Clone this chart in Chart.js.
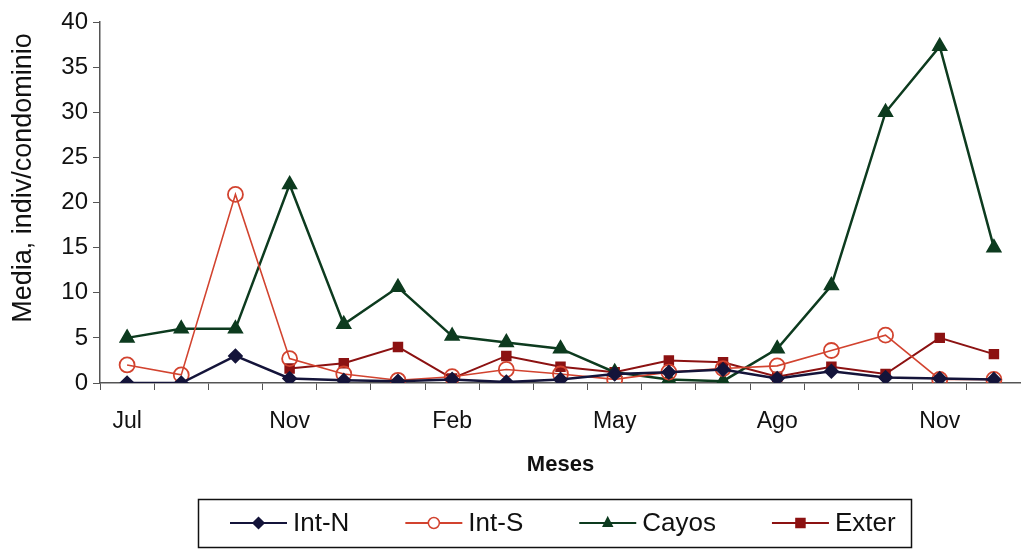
<!DOCTYPE html>
<html>
<head>
<meta charset="utf-8">
<script src="https://cdn.jsdelivr.net/npm/chart.js@4/dist/chart.umd.min.js"></script>
<style>
  html, body { margin: 0; padding: 0; background: #fff; }
  #wrap { width: 1021px; height: 550px; position: relative; }
</style>
</head>
<body>
<div id="wrap"><canvas id="c" width="1021" height="550"></canvas></div>
<script>
// ---- data ----
const months = ['Jul','Sep','Oct','Nov','Dic','Ene','Feb','Mar','Abr','May','Jun','Jul','Ago','Sep','Oct','Nov','Dic'];
const shownTickIdx = [0, 3, 6, 9, 12, 15];
const yTicks = [0, 5, 10, 15, 20, 25, 30, 35, 40];
const intN  = [0, 0, 3.0, 0.5, 0.3, 0.2, 0.4, 0.1, 0.4, 1.0, 1.2, 1.5, 0.5, 1.3, 0.6, 0.5, 0.4];
const intS  = [2.0, 0.9, 20.9, 2.7, 1.0, 0.3, 0.7, 1.5, 1.0, 0.4, 1.2, 1.6, 1.9, 3.6, 5.3, 0.4, 0.4];
const cayos = [5.0, 6.0, 6.0, 22.0, 6.5, 10.6, 5.2, 4.5, 3.8, 1.2, 0.4, 0.2, 3.8, 10.8, 30.0, 37.3, 15.0];
const exter = [null, null, null, 1.6, 2.2, 4.0, 0.5, 3.0, 1.8, 1.2, 2.5, 2.3, 0.7, 1.8, 1.0, 5.0, 3.2];
const seriesNames = ['Int-N', 'Int-S', 'Cayos', 'Exter'];
const yTitle = 'Media, indiv/condominio';
const xTitle = 'Meses';

const FONT = "'Liberation Sans', Arial, sans-serif";

function drawMarker(ctx, style, cx, cy, r) {
  if (style === 'circle') { ctx.arc(cx, cy, r + 1, 0, Math.PI * 2); }
  else if (style === 'rectRot') { ctx.moveTo(cx, cy - r - 1); ctx.lineTo(cx + r + 1, cy); ctx.lineTo(cx, cy + r + 1); ctx.lineTo(cx - r - 1, cy); ctx.closePath(); }
  else if (style === 'triangle') { ctx.moveTo(cx, cy - r - 1); ctx.lineTo(cx + r, cy + r * 0.7); ctx.lineTo(cx - r, cy + r * 0.7); ctx.closePath(); }
  else { ctx.rect(cx - r, cy - r, 2 * r, 2 * r); }
}

const decorations = {
  id: 'decorations',
  afterDraw(chart) {
    const ctx = chart.ctx;
    ctx.save();
    // y-axis title
    ctx.fillStyle = '#111';
    ctx.font = '27px ' + FONT;
    ctx.textAlign = 'center';
    ctx.textBaseline = 'middle';
    ctx.translate(24, 178);
    ctx.rotate(-Math.PI / 2);
    ctx.fillText(yTitle, 0, 0);
    ctx.restore();

    // legend
    ctx.save();
    ctx.strokeStyle = '#111';
    ctx.lineWidth = 1.5;
    ctx.strokeRect(198.5, 499.5, 713, 48);
    ctx.font = '26px ' + FONT;
    ctx.textBaseline = 'middle';
    ctx.textAlign = 'left';
    let x = 230;
    const y = 523;
    chart.data.datasets.forEach(ds => {
      ctx.strokeStyle = ds.borderColor;
      ctx.lineWidth = 2;
      ctx.beginPath(); ctx.moveTo(x, y); ctx.lineTo(x + 57, y); ctx.stroke();
      ctx.fillStyle = ds.pointStyle === 'circle' ? '#fff' : ds.pointBackgroundColor;
      ctx.strokeStyle = ds.pointBorderColor;
      ctx.lineWidth = 1.5;
      ctx.beginPath();
      drawMarker(ctx, ds.pointStyle, x + 28.5, y, 4.5);
      ctx.fill();
      ctx.stroke();
      ctx.fillStyle = '#111';
      ctx.fillText(ds.label, x + 63, y + 1);
      x += 63 + ctx.measureText(ds.label).width + 56;
    });
    ctx.restore();
  }
};

const colors = {
  intN: '#14143a', intS: '#d2432f', cayos: '#0d3b1f', exter: '#8c1212'
};

new Chart(document.getElementById('c'), {
  type: 'line',
  data: {
    labels: months,
    datasets: [
      { label: seriesNames[0], data: intN, borderColor: colors.intN, borderWidth: 2.5,
        pointStyle: 'rectRot', pointRadius: 6, pointBackgroundColor: colors.intN, pointBorderColor: colors.intN },
      { label: seriesNames[1], data: intS, borderColor: colors.intS, borderWidth: 1.6,
        pointStyle: 'circle', pointRadius: 7.5, pointBorderWidth: 1.8, pointBackgroundColor: 'rgba(255,255,255,0)', pointBorderColor: colors.intS },
      { label: seriesNames[2], data: cayos, borderColor: colors.cayos, borderWidth: 2.5,
        pointStyle: 'triangle', pointRadius: 7, pointBackgroundColor: colors.cayos, pointBorderColor: colors.cayos },
      { label: seriesNames[3], data: exter, borderColor: colors.exter, borderWidth: 2,
        pointStyle: 'rect', pointRadius: 6, pointBackgroundColor: colors.exter, pointBorderColor: colors.exter }
    ]
  },
  options: {
    responsive: false,
    animation: false,
    layout: { autoPadding: false, padding: { top: 22, right: 0, left: 0, bottom: 72 } },
    plugins: { legend: { display: false }, tooltip: { enabled: false } },
    elements: { line: { tension: 0 } },
    scales: {
      x: {
        type: 'category',
        offset: true,
        grid: { display: true, offset: true, drawOnChartArea: false, drawTicks: true, tickLength: 7, color: '#555', lineWidth: 1 },
        border: { display: true, color: '#555', width: 1.5 },
        ticks: {
          autoSkip: false, maxRotation: 0, padding: 18,
          color: '#111', font: { family: FONT, size: 23 },
          callback: (v, i) => shownTickIdx.includes(i) ? months[i] : ''
        },
        title: { display: true, text: xTitle, color: '#111', padding: { top: 0, bottom: 0 },
                 font: { family: FONT, size: 22, weight: 'bold' } },
        afterFit: s => { s.height = 95; s.paddingRight = 0; s.paddingLeft = 0; }
      },
      y: {
        min: 0, max: 40,
        afterBuildTicks: s => { s.ticks = yTicks.map(v => ({ value: v })); },
        grid: { display: true, drawOnChartArea: false, drawTicks: true, tickLength: 7, color: '#555' },
        border: { display: true, color: '#555', width: 1.5 },
        ticks: { color: '#111', padding: 5, font: { family: FONT, size: 24 } },
        title: { display: false },
        afterFit: s => { s.width = 100; }
      }
    }
  },
  plugins: [decorations]
});
</script>
</body>
</html>
